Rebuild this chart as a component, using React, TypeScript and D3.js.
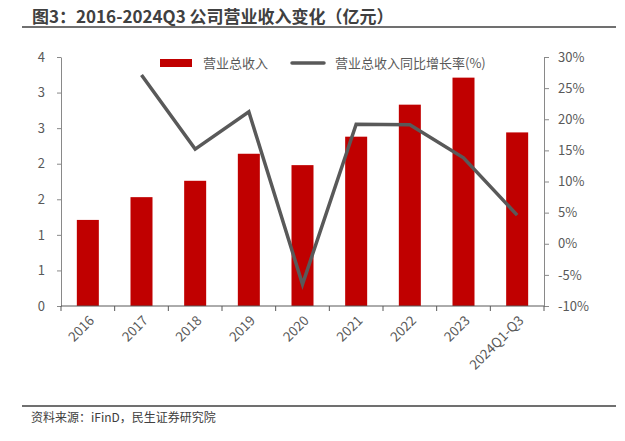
import * as d3 from "d3";
import { useRef, useEffect } from "react";

const categories = ["2016", "2017", "2018", "2019", "2020", "2021", "2022", "2023", "2024Q1-Q3"];
// 营业总收入 (亿元)
const revenue = [1.21, 1.53, 1.76, 2.14, 1.98, 2.38, 2.83, 3.21, 2.44];
// 同比增长率 (%), 2016 has no value
const growth: (number | null)[] = [null, 27.1, 15.2, 21.2, -6.5, 19.2, 19.1, 13.8, 4.6];
const leftTicks = [0, 0.5, 1, 1.5, 2, 2.5, 3, 3.5];
const rightTicks = [-10, -5, 0, 5, 10, 15, 20, 25, 30];

const title = "图3：2016-2024Q3 公司营业收入变化（亿元）";
const source = "资料来源：iFinD，民生证券研究院";
const legendBar = "营业总收入";
const legendLine = "营业总收入同比增长率(%)";

const W = 625;
const H = 441;
const FONT = "'Noto Sans CJK SC', 'Noto Sans', sans-serif";

export default function App() {
  const svgRef = useRef<SVGSVGElement | null>(null);

  useEffect(() => {
    if (!svgRef.current) return;
    const svg = d3.select(svgRef.current);
    svg.selectAll("*").remove();

    const marginLeft = 61;
    const marginRight = W - 544;
    const top = 57;
    const bottom = 306;

    const x = d3.scaleBand().domain(categories).range([marginLeft, W - marginRight]).paddingInner(0.59).paddingOuter(0.295);
    const xb = d3.scaleBand().domain(categories).range([marginLeft, W - marginRight]);
    const yL = d3.scaleLinear().domain([0, 3.5]).range([bottom, top]);
    const yR = d3.scaleLinear().domain([-10, 30]).range([bottom, top]);

    // title + rules
    svg.append("text")
      .attr("x", 32).attr("y", 23)
      .attr("font-size", 17).attr("font-weight", "bold")
      .attr("fill", "#404040").attr("font-family", FONT)
      .text(title);
    svg.append("line").attr("x1", 22).attr("x2", 616).attr("y1", 27).attr("y2", 27)
      .attr("stroke", "#404040").attr("stroke-width", 1.6);
    svg.append("line").attr("x1", 22).attr("x2", 616).attr("y1", 406).attr("y2", 406)
      .attr("stroke", "#404040").attr("stroke-width", 1.6);
    svg.append("text")
      .attr("x", 31).attr("y", 422)
      .attr("font-size", 12).attr("fill", "#404040").attr("font-family", FONT)
      .text(source);

    // bars
    svg.append("g").selectAll("rect")
      .data(revenue)
      .join("rect")
      .attr("x", (_, i) => x(categories[i])!)
      .attr("width", x.bandwidth())
      .attr("y", (d) => yL(d))
      .attr("height", (d) => yL(0) - yL(d))
      .attr("fill", "#C00000");

    // left axis
    const gl = svg.append("g")
      .attr("transform", `translate(${marginLeft},0)`)
      .call(d3.axisLeft(yL).tickValues(leftTicks).tickFormat((d) => d3.format(".0f")(Math.round(d as number))).tickSize(4).tickSizeOuter(0));
    gl.select(".domain").attr("stroke", "#898989");
    gl.selectAll(".tick line").attr("stroke", "#898989");
    gl.selectAll(".tick text").attr("fill", "#595959").attr("font-size", 13).attr("font-family", FONT).attr("dx", -9);

    // right axis
    const gr = svg.append("g")
      .attr("transform", `translate(${W - marginRight},0)`)
      .call(d3.axisRight(yR).tickValues(rightTicks).tickFormat((d) => `${d}%`).tickSize(5).tickSizeOuter(0));
    gr.select(".domain").attr("stroke", "#898989");
    gr.selectAll(".tick line").attr("stroke", "#898989");
    gr.selectAll(".tick text").attr("fill", "#595959").attr("font-size", 13).attr("font-family", FONT).attr("dx", 6);

    // x axis
    const gx = svg.append("g")
      .attr("transform", `translate(0,${bottom})`);
    gx.append("line").attr("x1", marginLeft).attr("x2", W - marginRight).attr("stroke", "#595959");
    gx.selectAll("line.tk")
      .data(categories.concat(["end"]))
      .join("line")
      .attr("class", "tk")
      .attr("x1", (_, i) => marginLeft + i * xb.bandwidth())
      .attr("x2", (_, i) => marginLeft + i * xb.bandwidth())
      .attr("y1", 0).attr("y2", 5)
      .attr("stroke", "#595959");
    gx.selectAll("text")
      .data(categories)
      .join("text")
      .attr("transform", (d) => `translate(${xb(d)! + xb.bandwidth() / 2 + 4},${12}) rotate(-45)`)
      .attr("text-anchor", "end")
      .attr("dy", "0.35em")
      .attr("font-size", 13.5)
      .attr("fill", "#595959")
      .attr("font-family", FONT)
      .text((d) => d);

    // growth line
    const line = d3.line<number | null>()
      .defined((d) => d !== null)
      .x((_, i) => xb(categories[i])! + xb.bandwidth() / 2)
      .y((d) => yR(d as number));
    svg.append("path")
      .datum(growth)
      .attr("fill", "none")
      .attr("stroke", "#595959")
      .attr("stroke-width", 3.5)
      .attr("stroke-linejoin", "miter")
      .attr("d", line);

    // legend
    const lg = svg.append("g").attr("font-family", FONT).attr("font-size", 13).attr("fill", "#595959");
    lg.append("rect").attr("x", 160).attr("y", 59).attr("width", 32).attr("height", 8).attr("fill", "#C00000");
    lg.append("text").attr("x", 203).attr("y", 63).attr("dy", "0.35em").text(legendBar);
    lg.append("line").attr("x1", 292).attr("x2", 324).attr("y1", 63).attr("y2", 63)
      .attr("stroke", "#595959").attr("stroke-width", 3.5).attr("stroke-linecap", "round");
    lg.append("text").attr("x", 335).attr("y", 63).attr("dy", "0.35em").text(legendLine);
  }, []);

  return (
    <svg ref={svgRef} width={W} height={H} style={{ position: "absolute", left: 0, top: 0, background: "#fff" }} />
  );
}
